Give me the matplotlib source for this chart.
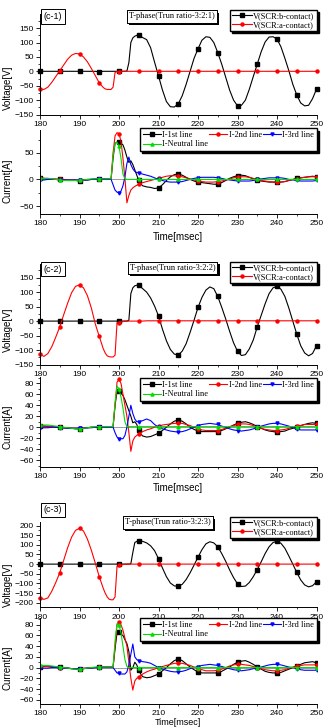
import numpy as np
import matplotlib
matplotlib.use('Agg')
import matplotlib.pyplot as plt
from matplotlib.ticker import MultipleLocator
import matplotlib.patheffects as pe

# ---------------- time base (ms) ----------------
t = np.concatenate([np.arange(180, 196.5, 1.0),
                    np.arange(196.5, 206.25, 0.5),
                    np.arange(207, 250.5, 1.0)])

# ---------------- (c-1) ----------------
v1_b = ([0]*15 + [-2, 0] +
        [0, 0, 0, 0, 0, 0, 0, 0, 0, 0, 0, 1, 30, 100, 116, 122, 125, 125, 121, 117] +
        [110, 82, 32, -16, -65, -105, -123, -124, -113, -85, -45, 0, 45, 78, 108, 120, 118, 100, 65, 25,
         -20, -65, -100, -120, -118, -100, -62, -18, 25, 68, 102, 119, 120, 112, 85, 45, 2, -45, -82, -110,
         -120, -118, -95, -62])
v1_a = ([-62, -63, -55, -38, -18, 2, 22, 42, 56, 62, 60, 50, 33, 10, -15, -40, -56] +
        [-61, -63, -63, -63, -55, -4, -1, -1] + [0]*12 +
        [0]*44)
i1_1 = ([2, 2, 1, 0, 0, 0, -1, -2, -2, -2, -3, -2, -1, 0, 1, 1, 1] +
        [1, 1, 1, 1, 40, 68, 70, 70, 68, 65, 55, 42, 32, 35, 28, 18, 8, -2, -8, -12] +
        [-14, -15, -17, -16, -10, -2, 5, 9, 10, 8, 4, 0, -3, -5, -6, -7, -8, -9, -9, -6,
         -2, 2, 5, 7, 8, 7, 4, 1, -1, -3, -4, -5, -5, -5, -5, -4, -2, 0, 2, 3, 4, 5, 6, 5])
i1_2 = ([2, 2, 2, 1, 1, 0, 0, -1, -1, -1, -1, -1, 0, 0, 1, 1, 1] +
        [1, 1, 1, 1, 50, 82, 88, 86, 72, 40, 2, -44, -30, -20, -16, -13, -11, -9, -8, -6] +
        [-4, -2, 0, 2, 4, 6, 7, 7, 6, 5, 3, 1, -1, -3, -4, -5, -5, -5, -4, -3,
         -1, 1, 3, 4, 5, 5, 4, 2, 0, -2, -3, -4, -5, -5, -5, -4, -2, 0, 1, 3, 4, 5, 5, 5])
i1_3 = ([-1, -1, 0, 0, 0, -1, -1, -1, -1, -1, -1, -1, -1, 0, 0, 0, 0] +
        [0, 0, 0, 0, -10, -20, -24, -25, -22, -12, 5, 30, 42, 28, 20, 15, 13, 12, 11, 10] +
        [8, 6, 3, 0, -2, -4, -5, -5, -5, -4, -2, 0, 2, 3, 4, 4, 4, 4, 3, 2,
         0, -1, -2, -3, -3, -3, -3, -2, 0, 1, 2, 3, 3, 3, 3, 2, 0, -1, -2, -3, -3, -3, -3, -2])
i1_n = ([2, 2, 2, 1, 0, -1, -2, -2, -2, -2, -1, -1, 0, 1, 1, 1, 1] +
        [1, 1, 1, 1, 45, 68, 70, 62, 40, 10, 1, 0, 0, 0, 0, 0, 0, 0, 0, 0] +
        [0]*44)

# ---------------- (c-2) ----------------
v2_b = ([0]*17 +
        [0]*12 + [3, 95, 115, 122, 124, 123, 118, 112] +
        [100, 80, 52, 18, -28, -68, -98, -114, -117, -104, -78, -39, 3, 47, 82, 107, 118, 112, 85, 48,
         8, -35, -75, -104, -119, -116, -96, -65, -20, 20, 60, 95, 115, 120, 110, 85, 45, 0, -45, -85,
         -110, -120, -112, -85])
v2_a = ([-115, -122, -112, -88, -55, -20, 22, 62, 98, 120, 125, 115, 88, 45, -10, -53, -95] +
        [-110, -120, -123, -124, -124, -118, -6, -5, -3, -2] + [0]*10 +
        [1]*44)
i2_1 = ([2, 2, 1, 1, 0, 0, -1, -2, -2, -3, -3, -2, -1, 0, 0, 1, 1] +
        [1, 1, 1, 1, 1, 40, 65, 66, 62, 58, 50, 40, 30, 20, 8, 10, 5, -5, -12, -16] +
        [-18, -17, -14, -11, -6, 0, 6, 11, 13, 11, 6, 0, -4, -7, -8, -8, -8, -8, -8, -6,
         -3, 0, 4, 7, 9, 10, 8, 5, 1, -2, -5, -7, -8, -9, -8, -7, -4, -2, 1, 3, 5, 7, 8, 7])
i2_2 = ([2, 2, 2, 1, 1, 0, -1, -1, -2, -2, -2, -1, -1, 0, 0, 1, 1] +
        [1, 1, 1, 1, 1, 40, 82, 87, 80, 60, 40, 20, -10, -44, -25, -18, -15, -12, -10, -8] +
        [-5, -3, 0, 2, 4, 5, 6, 7, 7, 7, 5, 3, 0, -3, -5, -6, -6, -6, -6, -4,
         -2, 1, 3, 5, 6, 6, 5, 3, 0, -2, -4, -5, -6, -6, -5, -4, -2, 0, 2, 3, 5, 5, 5, 5])
i2_3 = ([-1, -1, -1, 0, 0, -1, -1, -2, -2, -2, -2, -2, -1, -1, 0, 0, 0] +
        [0, 0, 0, 0, 0, -10, -18, -21, -21, -21, -15, 0, 20, 40, 25, 15, 10, 10, 11, 12] +
        [15, 12, 5, 0, -3, -5, -7, -8, -9, -8, -6, -3, 0, 3, 5, 6, 7, 6, 5, 2,
         0, -3, -5, -6, -7, -6, -5, -3, 0, 2, 4, 6, 7, 7, 6, 4, 2, -1, -3, -5, -5, -5, -5, -5])
i2_n = ([4, 4, 4, 3, 2, 1, 0, -1, -2, -3, -3, -2, -1, 0, 1, 1, 1] +
        [1, 1, 1, 1, 1, 45, 75, 70, 55, 35, 10, 1, 1, 1, 1, 1, 1, 1, 1, 1] +
        [1]*44)

# ---------------- (c-3) ----------------
v3_b = ([0]*17 +
        [0]*13 + [2, 60, 112, 118, 120, 120, 118] +
        [110, 95, 70, 28, -20, -65, -98, -113, -115, -105, -80, -45, -5, 36, 75, 105, 116, 110, 90, 55,
         15, -30, -70, -102, -116, -114, -95, -65, -28, 12, 55, 90, 112, 118, 108, 82, 42, 0, -43, -82,
         -108, -118, -112, -92])
v3_a = ([-175, -183, -175, -140, -95, -45, 20, 85, 140, 175, 186, 172, 130, 72, 5, -65, -125] +
        [-150, -170, -182, -185, -185, -170, -12, -7, -4, -3] + [0]*10 +
        [0]*44)
i3_1 = ([2, 2, 2, 2, 1, 1, 0, -1, -2, -3, -3, -2, -1, 0, 0, 1, 1] +
        [1, 1, 1, 1, 1, 35, 65, 66, 62, 60, 52, 45, 30, -5, 0, 10, 5, -5, -12, -17] +
        [-19, -18, -15, -12, -6, 0, 7, 13, 16, 13, 7, 1, -4, -8, -10, -10, -10, -10, -10, -7,
         -3, 1, 6, 10, 12, 13, 10, 6, 1, -3, -7, -9, -10, -10, -9, -6, -3, 0, 3, 6, 9, 10, 11, 9])
i3_2 = ([2, 2, 2, 1, 1, 0, -1, -1, -2, -2, -2, -1, -1, 0, 0, 1, 1] +
        [1, 1, 1, 1, 1, 40, 80, 86, 80, 70, 55, 40, 10, -20, -42, -25, -20, -18, -15, -12] +
        [-8, -5, -3, 0, 2, 4, 6, 8, 8, 8, 6, 4, 1, -2, -4, -6, -6, -6, -5, -3,
         0, 3, 5, 6, 6, 5, 4, 2, 0, -2, -4, -5, -6, -6, -5, -4, -1, 1, 3, 4, 5, 5, 5, 5])
i3_3 = ([-1, -1, -1, 0, 0, -1, -1, -1, -2, -2, -2, -2, -1, -1, 0, 0, 0] +
        [0, 0, 0, 0, 0, -5, -10, -11, -12, -12, -12, -8, 5, 25, 44, 20, 15, 13, 12, 11] +
        [10, 8, 4, 0, -3, -5, -7, -8, -8, -7, -5, -2, 0, 2, 4, 5, 6, 5, 4, 2,
         0, -2, -4, -5, -6, -5, -4, -2, -1, 1, 3, 5, 6, 6, 5, 3, 1, 0, -2, -4, -5, -5, -5, -5])
i3_n = ([4, 4, 4, 3, 2, 1, 0, -1, -2, -3, -3, -2, -1, 0, 1, 1, 1] +
        [1, 1, 1, 1, 1, 50, 82, 80, 65, 40, 15, 2, 0, 0, 0, 0, 0, 0, 0, 0] +
        [0]*44)

panel_tags = ['(c-1)', '(c-2)', '(c-3)']
titles = ['T-phase(Trun ratio-3:2:1)', 'T-phase(Trun ratio-3:2:2)', 'T-phase(Trun ratio-3:2:3)']
v_labels = ['V(SCR:b-contact)', 'V(SCR:a-contact)']
i_labels = ['I-1st line', 'I-2nd line', 'I-3rd line', 'I-Neutral line']
x_ticks = [180, 190, 200, 210, 220, 230, 240, 250]

volt = [(v1_b, v1_a), (v2_b, v2_a), (v3_b, v3_a)]
curr = [(i1_1, i1_2, i1_3, i1_n), (i2_1, i2_2, i2_3, i2_n), (i3_1, i3_2, i3_3, i3_n)]

# ---------------- layout (pixels) ----------------
W, H = 323, 728
fig = plt.figure(figsize=(W/100, H/100), dpi=100)
fig.patch.set_facecolor('white')

def fx(px):
    return px / W

def fy(py):
    return 1 - py / H

XL, XR = 40, 316.5
v_box = [(14, 114.5), (263.5, 364.5), (521.5, 607.3)]
c_box = [(130.5, 214), (377.3, 466.7), (618.3, 704)]
v_ylim = [(-150, 199), (-150, 199), (-224, 221)]
c_ylim = [(-65, 92), (-72, 91), (-68, 92)]
v_major = [50, 50, 50]
c_major = [50, 20, 20]
tag_y = [16.5, 269, 510]
title_xy = [(172, 16.5), (172.5, 268), (168, 522.5)]
vleg_top = [10, 262, 517]
cleg_top = [128.3, 378.3, 618.3]
vlab_y = [88, 330, 585]
clab_y = [181, 427, 668]
time_y = [237, 488, 722.5]

SANS = 'Liberation Sans'
SERIF = 'Liberation Serif'
colors_v = ['#000000', '#ff0000']
markers_v = ['s', 'o']
colors_i = ['#000000', '#ff0000', '#0000ff', '#00dd00']
markers_i = ['s', 'o', 'v', '^']

mk = [k for k, tv in enumerate(t) if abs(tv % 5) < 1e-9]


def style(ax, ylim, major):
    ax.set_xlim(180, 250)
    ax.set_ylim(*ylim)
    ax.set_xticks(x_ticks)
    ax.xaxis.set_minor_locator(MultipleLocator(5))
    ax.yaxis.set_major_locator(MultipleLocator(major))
    ax.yaxis.set_minor_locator(MultipleLocator(major / 2))
    for s in ['top', 'right']:
        ax.spines[s].set_visible(False)
    for s in ['left', 'bottom']:
        ax.spines[s].set_linewidth(0.7)
    ax.tick_params(which='major', direction='out', length=3, width=0.6,
                   labelsize=6, pad=1.5)
    ax.tick_params(which='minor', direction='out', length=1.5, width=0.5)
    for lab in ax.get_xticklabels() + ax.get_yticklabels():
        lab.set_family(SANS)
    ax.set_facecolor('none')


for p in range(3):
    # ---- voltage panel ----
    top, bot = v_box[p]
    axv = fig.add_axes([fx(XL), fy(bot), fx(XR) - fx(XL), (bot - top) / H])
    style(axv, v_ylim[p], v_major[p])
    hv = []
    for s, col, m in zip(volt[p], colors_v, markers_v):
        ln, = axv.plot(t, s, color=col, lw=0.8, marker=m, ms=2.2,
                       markevery=mk, clip_on=False)
        hv.append(ln)
    axv.legend(hv, v_labels, loc='upper right',
               bbox_to_anchor=(fx(XR), fy(vleg_top[p])), bbox_transform=fig.transFigure,
               borderaxespad=0, frameon=True, fancybox=False, edgecolor='k',
               framealpha=1, prop={'family': SERIF, 'size': 6},
               handlelength=2.3, handletextpad=0.2, borderpad=0.25,
               labelspacing=0.1, shadow={'color': 'k', 'alpha': 1, 'ox': 1.6, 'oy': -1.6})
    fig.text(fx(53), fy(tag_y[p]), panel_tags[p], ha='center', va='center',
             fontsize=6.5, family=SANS,
             bbox=dict(boxstyle='square,pad=0.3', fc='white', ec='k', lw=0.7))
    tt = fig.text(fx(title_xy[p][0]), fy(title_xy[p][1]), titles[p], ha='center',
                  va='center', fontsize=6, family=SERIF,
                  bbox=dict(boxstyle='square,pad=0.25', fc='white', ec='k', lw=0.7))
    tt.get_bbox_patch().set_path_effects(
        [pe.withSimplePatchShadow(offset=(1.6, -1.6), shadow_rgbFace='k', alpha=1), pe.Normal()])
    fig.text(fx(8), fy(vlab_y[p]), 'Voltage[V]', rotation=90, ha='center', va='center',
             fontsize=7, family=SANS)

    # ---- current panel ----
    top, bot = c_box[p]
    axc = fig.add_axes([fx(XL), fy(bot), fx(XR) - fx(XL), (bot - top) / H])
    style(axc, c_ylim[p], c_major[p])
    axc.axhline(0, color='0.55', lw=0.6, zorder=1)
    hc = []
    for s, col, m in zip(curr[p], colors_i, markers_i):
        ln, = axc.plot(t, s, color=col, lw=0.8, marker=m, ms=2.2,
                       markevery=mk, zorder=2)
        hc.append(ln)
    order = [0, 3, 1, 2]
    axc.legend([hc[k] for k in order], [i_labels[k] for k in order], ncol=3,
               loc='upper right',
               bbox_to_anchor=(fx(XR), fy(cleg_top[p])), bbox_transform=fig.transFigure,
               borderaxespad=0, frameon=True, fancybox=False, edgecolor='k',
               framealpha=1, prop={'family': SERIF, 'size': 6},
               handlelength=2.2, handletextpad=0.15, borderpad=0.3,
               labelspacing=0.2, columnspacing=0.1,
               shadow={'color': 'k', 'alpha': 1, 'ox': 1.6, 'oy': -1.6})
    fig.text(fx(8), fy(clab_y[p]), 'Current[A]', rotation=90, ha='center', va='center',
             fontsize=7, family=SANS)
    fig.text(fx(178), fy(time_y[p]), 'Time[msec]', ha='center', va='center',
             fontsize=6.5 if p == 2 else 7, family=SANS)

fig.savefig('out.png', dpi=100)
